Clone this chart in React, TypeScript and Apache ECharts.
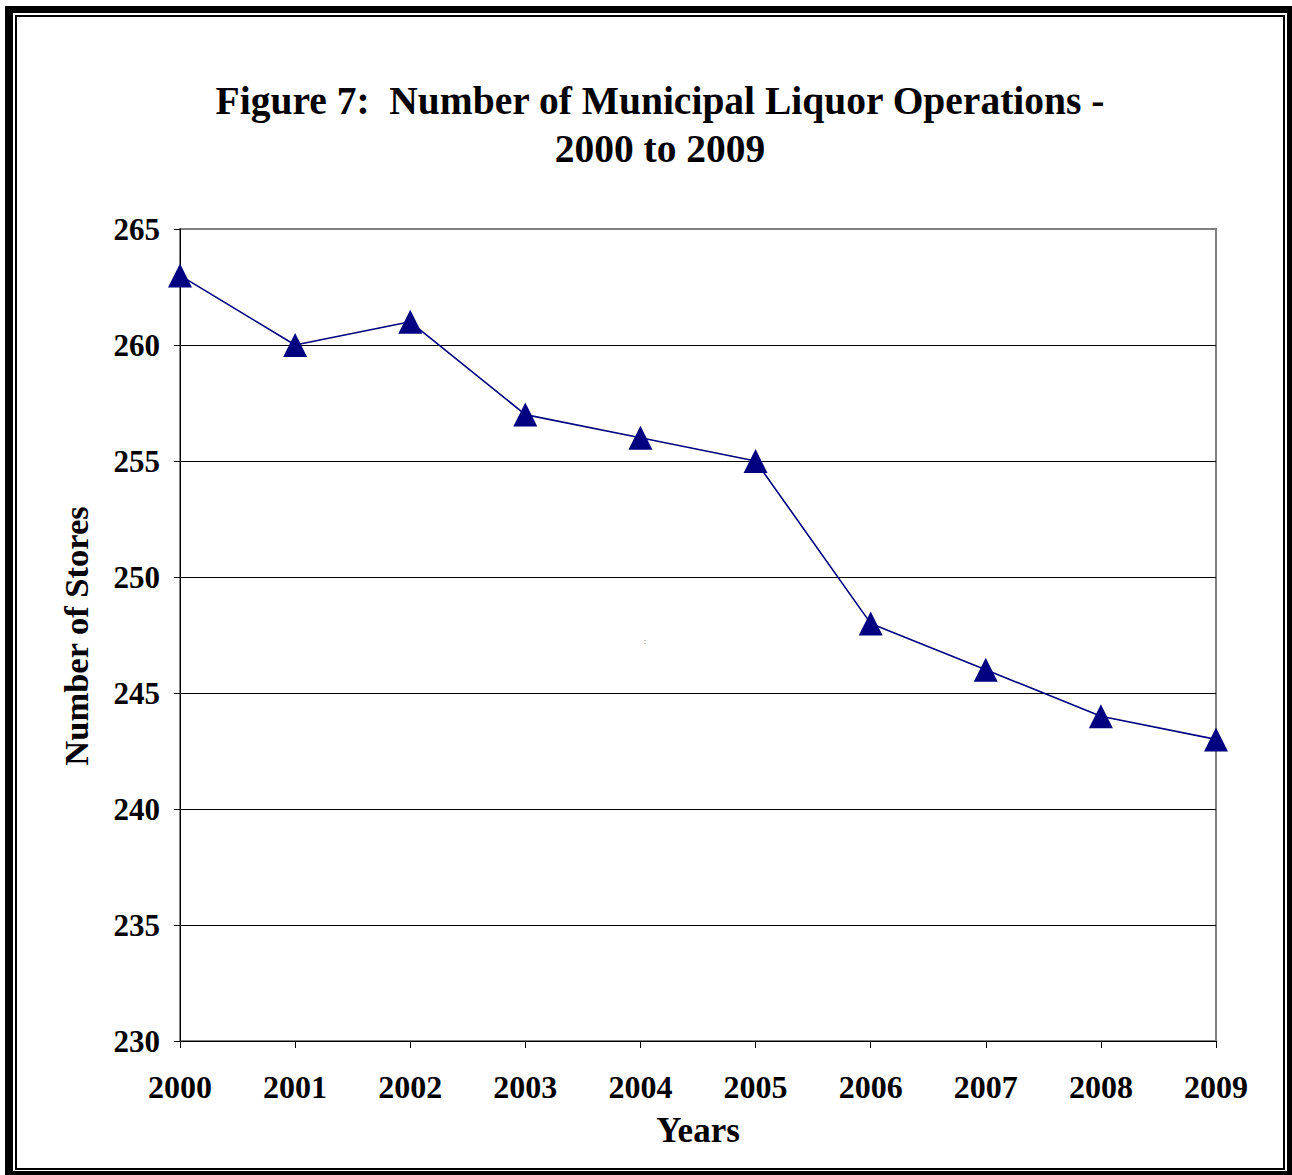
import React, { useEffect, useRef } from "react";
import * as echarts from "echarts";

const years = ["2000", "2001", "2002", "2003", "2004", "2005", "2006", "2007", "2008", "2009"];
const stores = [263, 260, 261, 257, 256, 255, 248, 246, 244, 243];
const titleLines = ["Figure 7:  Number of Municipal Liquor Operations -", "2000 to 2009"];
const xName = "Years";
const yName = "Number of Stores";
const yMin = 230;
const yMax = 265;
const yStep = 5;

const FONT = "'Liberation Serif', 'Times New Roman', serif";

export default function App() {
  const ref = useRef<HTMLDivElement>(null);
  useEffect(() => {
    if (!ref.current) return;
    const chart = echarts.init(ref.current, null, { renderer: "svg" });
    const splitColors: string[] = [];
    for (let v = yMin; v <= yMax; v += yStep) splitColors.push(v === yMax ? "#808080" : "#000000");
    chart.setOption({
      animation: false,
      backgroundColor: "#ffffff",
      grid: {
        left: 180,
        right: 76,
        top: 229,
        bottom: 134,
        show: true,
        borderColor: "#808080",
        borderWidth: 2,
        backgroundColor: "transparent",
      },
      xAxis: {
        type: "category",
        data: years,
        boundaryGap: false,
        axisLine: { lineStyle: { color: "#000", width: 1 } },
        axisTick: { show: true, length: 7, lineStyle: { color: "#000" } },
        axisLabel: {
          margin: 30,
          fontSize: 32,
          fontWeight: "bold",
          fontFamily: FONT,
          color: "#000",
        },
        splitLine: { show: false },
      },
      yAxis: {
        type: "value",
        min: yMin,
        max: yMax,
        interval: yStep,
        axisLine: { show: true, lineStyle: { color: "#000", width: 1 } },
        axisTick: { show: true, length: 6, lineStyle: { color: "#000" } },
        axisLabel: {
          margin: 20,
          fontSize: 31,
          fontWeight: "bold",
          fontFamily: FONT,
          color: "#000",
        },
        splitLine: { show: true, lineStyle: { color: splitColors, width: 1 } },
      },
      series: [
        {
          type: "line",
          data: stores,
          symbol: "triangle",
          symbolSize: 24,
          itemStyle: { color: "#000080" },
          lineStyle: { color: "#000080", width: 1.6 },
          z: 5,
        },
      ],
      graphic: [
        { type: "rect", shape: { x: 5, y: 6, width: 1287, height: 7 }, style: { fill: "#000" } },
        { type: "rect", shape: { x: 5, y: 6, width: 8, height: 1169 }, style: { fill: "#000" } },
        { type: "rect", shape: { x: 1287, y: 6, width: 5, height: 1169 }, style: { fill: "#000" } },
        { type: "rect", shape: { x: 5, y: 1171, width: 1287, height: 4 }, style: { fill: "#000" } },
        {
          type: "rect",
          shape: { x: 16, y: 16, width: 1268, height: 1153 },
          style: { fill: "none", stroke: "#000", lineWidth: 2 },
        },
        {
          type: "text",
          x: 660,
          y: 101,
          style: {
            text: titleLines[0],
            fontSize: 39.5,
            fontWeight: "bold",
            fontFamily: FONT,
            fill: "#000",
            textAlign: "center",
            textVerticalAlign: "middle",
          },
        },
        {
          type: "text",
          x: 660,
          y: 149,
          style: {
            text: titleLines[1],
            fontSize: 39.5,
            fontWeight: "bold",
            fontFamily: FONT,
            fill: "#000",
            textAlign: "center",
            textVerticalAlign: "middle",
          },
        },
        {
          type: "text",
          x: 698,
          y: 1130,
          style: {
            text: xName,
            fontSize: 35,
            fontWeight: "bold",
            fontFamily: FONT,
            fill: "#000",
            textAlign: "center",
            textVerticalAlign: "middle",
          },
        },
        {
          type: "text",
          x: 76,
          y: 636,
          rotation: Math.PI / 2,
          style: {
            text: yName,
            fontSize: 34.5,
            fontWeight: "bold",
            fontFamily: FONT,
            fill: "#000",
            textAlign: "center",
            textVerticalAlign: "middle",
          },
        },
        {
          type: "text",
          x: 645,
          y: 641,
          style: {
            text: ":",
            fontSize: 9,
            fontFamily: FONT,
            fill: "#555",
            textAlign: "center",
            textVerticalAlign: "middle",
          },
        },
      ],
    });
    return () => chart.dispose();
  }, []);
  return (
    <div
      ref={ref}
      style={{ position: "absolute", left: 0, top: 0, width: 1292, height: 1175 }}
    />
  );
}
